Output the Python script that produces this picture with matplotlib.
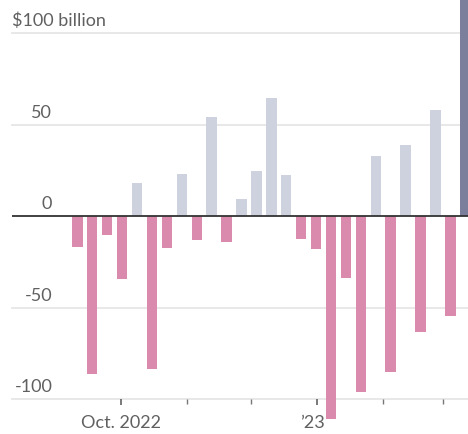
import pandas as pd
import matplotlib.pyplot as plt
import matplotlib.transforms as mtransforms

# weekly net flows, $ billion (last week runs off the top of the chart)
weeks = pd.date_range("2022-09-10 12:00", periods=27, freq="7D")
flows = [-16.7, -86, -10, -34.3, 18.2, -83.5, -17.4, 23.2, -13, 54.5,
         -14, 9.7, 24.8, 64.8, 22.4, -12.2, -17.6, -111, -33.6, -96,
         33.2, -85.2, 39.2, -63, 58.2, -54.3, 130]
grid_values = [100, 50, -50, -100]
y_labels = {100: "$100 billion", 50: "50", 0: "0", -50: "-50", -100: "-100"}
major_ticks = pd.to_datetime(["2022-10-01", "2023-01-01"])
major_labels = ["Oct. 2022", "\u201923"]
minor_ticks = pd.to_datetime(["2022-11-01", "2022-12-01", "2023-02-01", "2023-03-01"])

pink = "#d98aad"
grey = "#cdd2de"
dark = "#7b7f9b"
text_col = "#606060"

plt.rcParams["font.family"] = ["Lato", "DejaVu Sans"]

fig = plt.figure(figsize=(4.68, 4.34), dpi=100)
ax = fig.add_axes([11.7 / 468, 34.7 / 434, 1 - 11.7 / 468, 399.3 / 434])

colors = [pink if v < 0 else grey for v in flows]
colors[-1] = dark
ax.bar(weeks, flows, width=4.9, color=colors, zorder=2, clip_on=False)

for v in grid_values:
    ax.axhline(v, color="#e6e6e6", lw=1.3, zorder=0, clip_on=False)
ax.axhline(0, color="#333333", lw=1.3, zorder=3)

ax.set_ylim(-100, 118.2)
start = pd.Timestamp("2022-10-01")
ax.set_xlim(start - pd.Timedelta(days=51.3), start + pd.Timedelta(days=162.76))

# y labels sit just above their gridlines
lab_tr = mtransforms.offset_copy(ax.get_yaxis_transform(), fig=fig, y=5, units="points")
for v, s in y_labels.items():
    if v == 100:
        ax.text(0.0, v, s, transform=lab_tr, ha="left", va="baseline",
                fontsize=13, color=text_col)
    else:
        ax.text(0.089, v, s, transform=lab_tr, ha="right", va="baseline",
                fontsize=13, color=text_col)

ax.set_xticks(major_ticks)
ax.set_xticklabels(major_labels)
ax.set_xticks(minor_ticks, minor=True)
ax.tick_params(axis="x", which="major", length=4.5, width=1.1, color="#555555",
               labelsize=13, labelcolor=text_col, pad=7)
ax.tick_params(axis="x", which="minor", length=3.5, width=1.0, color="#777777")
ax.tick_params(axis="y", left=False, labelleft=False)
for sp in ax.spines.values():
    sp.set_visible(False)
ax.patch.set_alpha(0)

# the '23 label sits a little left of its tick
lbl = ax.get_xticklabels()[1]
lbl.set_transform(lbl.get_transform() + mtransforms.ScaledTranslation(-5 / 100, 0, fig.dpi_scale_trans))

fig.savefig("out.png", dpi=100)
